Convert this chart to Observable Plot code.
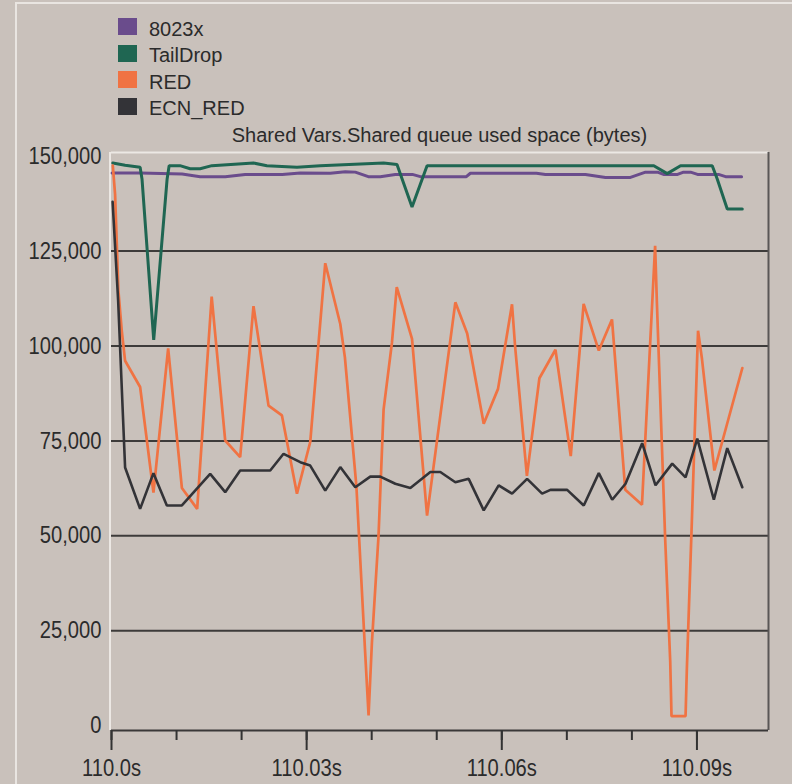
<!DOCTYPE html>
<html>
<head>
<meta charset="utf-8">
<script src="https://cdn.jsdelivr.net/npm/d3@7"></script>
<script src="https://cdn.jsdelivr.net/npm/@observablehq/plot@0.6"></script>
<style>
  html, body { margin: 0; padding: 0; background: #c9c1bb; }
  #root { position: relative; width: 792px; height: 784px; background: #c9c1bb; overflow: hidden;
          font-family: "Liberation Sans", Arial, sans-serif; color: #2b2b2b; }
  #edge { position: absolute; left: 15px; top: 2px; right: 0; bottom: 0;
          border-left: 2px solid #e9e5e1; border-top: 2px solid #e9e5e1; }
  .lg-sw { position: absolute; left: 118px; width: 19px; height: 17px; }
  .lg-tx { position: absolute; left: 149px; font-size: 20px; line-height: 20px; white-space: nowrap; }
  #title { position: absolute; left: 111px; width: 657px; top: 125px; text-align: center;
           font-size: 20px; line-height: 20px; white-space: nowrap; }
  #chart { position: absolute; left: 0; top: 146px; }
</style>
</head>
<body>
<div id="root">
  <div id="edge"></div>
  <div id="legend"></div>
  <div id="title"></div>
  <div id="chart"></div>
</div>
<script>
// ---------- data ----------
const chartTitle = "Shared Vars.Shared queue used space (bytes)";
const seriesNames = ["8023x", "TailDrop", "RED", "ECN_RED"];
const seriesColors = ["#6a4c8c", "#1f6652", "#f07343", "#333337"];

// time in seconds, value in bytes
const time8023x = [110.00009, 110.0044, 110.01086, 110.01363, 110.01748, 110.02055, 110.02625, 110.02902, 110.03363, 110.03594, 110.03748, 110.03948, 110.04132, 110.04363, 110.04625, 110.04748, 110.05455, 110.05517, 110.06532, 110.06671, 110.07286, 110.07594, 110.07978, 110.08209, 110.08394, 110.08486, 110.08702, 110.08794, 110.08902, 110.09009, 110.09332, 110.0944, 110.09686];
const value8023x = [145600, 145600, 145300, 144600, 144600, 145200, 145200, 145600, 145500, 145900, 145800, 144600, 144600, 145200, 145200, 144600, 144600, 145500, 145500, 145200, 145200, 144400, 144400, 145800, 145800, 145200, 145200, 145800, 145800, 145200, 145200, 144600, 144600];

const timeTailDrop = [110.0002, 110.00209, 110.0044, 110.00469, 110.00649, 110.00855, 110.00886, 110.01052, 110.01209, 110.01363, 110.01543, 110.02183, 110.02389, 110.02851, 110.03209, 110.04183, 110.04389, 110.0462, 110.04851, 110.08337, 110.08543, 110.08748, 110.09235, 110.09312, 110.09466, 110.09697];
const valueTailDrop = [148200, 147600, 147100, 144000, 101600, 144000, 147500, 147500, 146700, 146700, 147500, 148200, 147500, 147100, 147500, 148200, 147800, 136600, 147500, 147500, 145400, 147500, 147500, 144000, 136100, 136100];

const timeRED = [110.0002, 110.00055, 110.00106, 110.00158, 110.00209, 110.0044, 110.00645, 110.00871, 110.01082, 110.01317,
                 110.0154, 110.01748, 110.01978, 110.02183, 110.02414, 110.0262, 110.02851, 110.03055, 110.03286, 110.03517,
                 110.03588, 110.03765, 110.03897, 110.03952, 110.04003, 110.04105, 110.04183, 110.04311, 110.04385, 110.0462,
                 110.04851, 110.05286, 110.05468, 110.05722, 110.05942, 110.06157, 110.06205, 110.06386, 110.06578, 110.06825,
                 110.0706, 110.07258, 110.07491, 110.07694, 110.07898, 110.08155, 110.08357, 110.08385, 110.08512, 110.08589,
                 110.08609, 110.08825, 110.08845, 110.08922, 110.09017, 110.09078, 110.09268, 110.09698];
const valueRED = [147500, 140000, 114600, 104000, 96100, 89200, 61400, 99400, 62600, 57100,
                  113000, 75100, 70700, 110500, 84300, 81700, 61100, 74700, 121800, 105800,
                  97000, 63000, 20000, 2700, 21800, 50000, 83300, 100800, 115500, 101900,
                  55300, 111500, 103300, 79500, 88700, 111000, 99800, 65800, 91500, 99000,
                  71000, 111100, 98800, 107000, 62100, 58200, 126400, 111000, 49000, 17000,
                  2500, 2500, 15000, 54000, 104000, 96500, 67200, 94200];

const timeECN = [110.00017, 110.00102, 110.00209, 110.0044, 110.00645, 110.00851, 110.01082, 110.01517, 110.01748, 110.01978,
                 110.0244, 110.02645, 110.02902, 110.03055, 110.03286, 110.03517, 110.03748, 110.03978, 110.04132, 110.04363,
                 110.04594, 110.04902, 110.05055, 110.05286, 110.05491, 110.05722, 110.05952, 110.06158, 110.06389, 110.0662,
                 110.06748, 110.07005, 110.0726, 110.07491, 110.07697, 110.07902, 110.08158, 110.08363, 110.0862, 110.08825,
                 110.09005, 110.0926, 110.09466, 110.09697];
const valueECN = [138000, 112000, 68000, 57100, 66500, 58000, 58000, 66300, 61500, 67200,
                  67200, 71600, 69400, 68500, 61900, 68100, 62800, 65600, 65600, 63700,
                  62600, 66800, 66800, 64100, 65000, 56700, 63300, 61100, 65000, 61100,
                  62100, 62100, 58000, 66500, 59500, 63700, 74400, 63300, 69000, 65400,
                  75600, 59500, 73100, 62800];

const yTicks = [0, 25000, 50000, 75000, 100000, 125000, 150000];
const yGrid = [25000, 50000, 75000, 100000, 125000];
const xMajorTicks = [110.0, 110.03, 110.06, 110.09];
const xMajorLabels = ["110.0s", "110.03s", "110.06s", "110.09s"];
const xMinorTicks = [110.0, 110.01, 110.02, 110.03, 110.04, 110.05, 110.06, 110.07, 110.08, 110.09];
const xDomain = [110.0, 110.101];
const yDomain = [-1290, 150970];

// ---------- legend + title (HTML) ----------
const legend = document.getElementById("legend");
seriesNames.forEach((name, i) => {
  const top = 18 + i * 26.6;
  const sw = document.createElement("div");
  sw.className = "lg-sw";
  sw.style.top = top + "px";
  sw.style.background = seriesColors[i];
  legend.appendChild(sw);
  const tx = document.createElement("div");
  tx.className = "lg-tx";
  tx.style.top = (top + 0.5) + "px";
  tx.textContent = name;
  legend.appendChild(tx);
});
document.getElementById("title").textContent = chartTitle;

// ---------- chart ----------
const rows = (ts, vs) => ts.map((t, i) => ({t, v: vs[i]}));
const seriesData = [
  rows(time8023x, value8023x),
  rows(timeTailDrop, valueTailDrop),
  rows(timeRED, valueRED),
  rows(timeECN, valueECN)
];
const seriesWidths = [3, 3, 2.7, 2.6];

const tickFont = "'Liberation Sans', Arial, sans-serif";

const chart = Plot.plot({
  width: 792,
  height: 638,
  marginLeft: 111,
  marginRight: 24,
  marginTop: 6,
  marginBottom: 54,
  style: {background: "transparent", overflow: "visible", color: "#2b2b2b",
          fontFamily: tickFont, fontSize: "24px"},
  x: {domain: xDomain, label: null},
  y: {domain: yDomain, label: null},
  marks: [
    Plot.gridY(yGrid, {stroke: "#3d3b3a", strokeOpacity: 1, strokeWidth: 2}),
    // frame: light top/left, dark right/bottom
    Plot.ruleX([xDomain[0]], {stroke: "#ece8e4", strokeWidth: 2, dx: -1.5}),
    Plot.ruleY([yDomain[1]], {stroke: "#ece8e4", strokeWidth: 2}),
    Plot.ruleX([xDomain[1]], {stroke: "#5a5756", strokeWidth: 2}),
    Plot.ruleY([yDomain[0]], {stroke: "#3a3838", strokeWidth: 2}),
    ...seriesData.map((d, i) => Plot.line(d, {x: "t", y: "v", stroke: seriesColors[i],
                                               strokeWidth: seriesWidths[i], strokeLinejoin: "miter"})),
    Plot.axisY({ticks: yTicks, tickSize: 0, tickPadding: 10, tickFormat: d3.format(","),
                fontSize: 24, label: null}),
    Plot.axisX({ticks: xMinorTicks, tickSize: 10, tickFormat: () => "", strokeWidth: 2,
                stroke: "#333", label: null}),
    Plot.axisX({ticks: xMajorTicks, tickSize: 20, tickPadding: 8, strokeWidth: 2, stroke: "#333",
                tickFormat: (d) => xMajorLabels[xMajorTicks.indexOf(d)], fontSize: 24, label: null})
  ]
});
document.getElementById("chart").appendChild(chart);

// condensed look for the tick labels (narrow system font of the original)
chart.querySelectorAll("text").forEach((t) => {
  const w = t.getComputedTextLength();
  if (w > 0) {
    t.setAttribute("textLength", (w * 0.84).toFixed(1));
    t.setAttribute("lengthAdjust", "spacingAndGlyphs");
  }
});
</script>
</body>
</html>
